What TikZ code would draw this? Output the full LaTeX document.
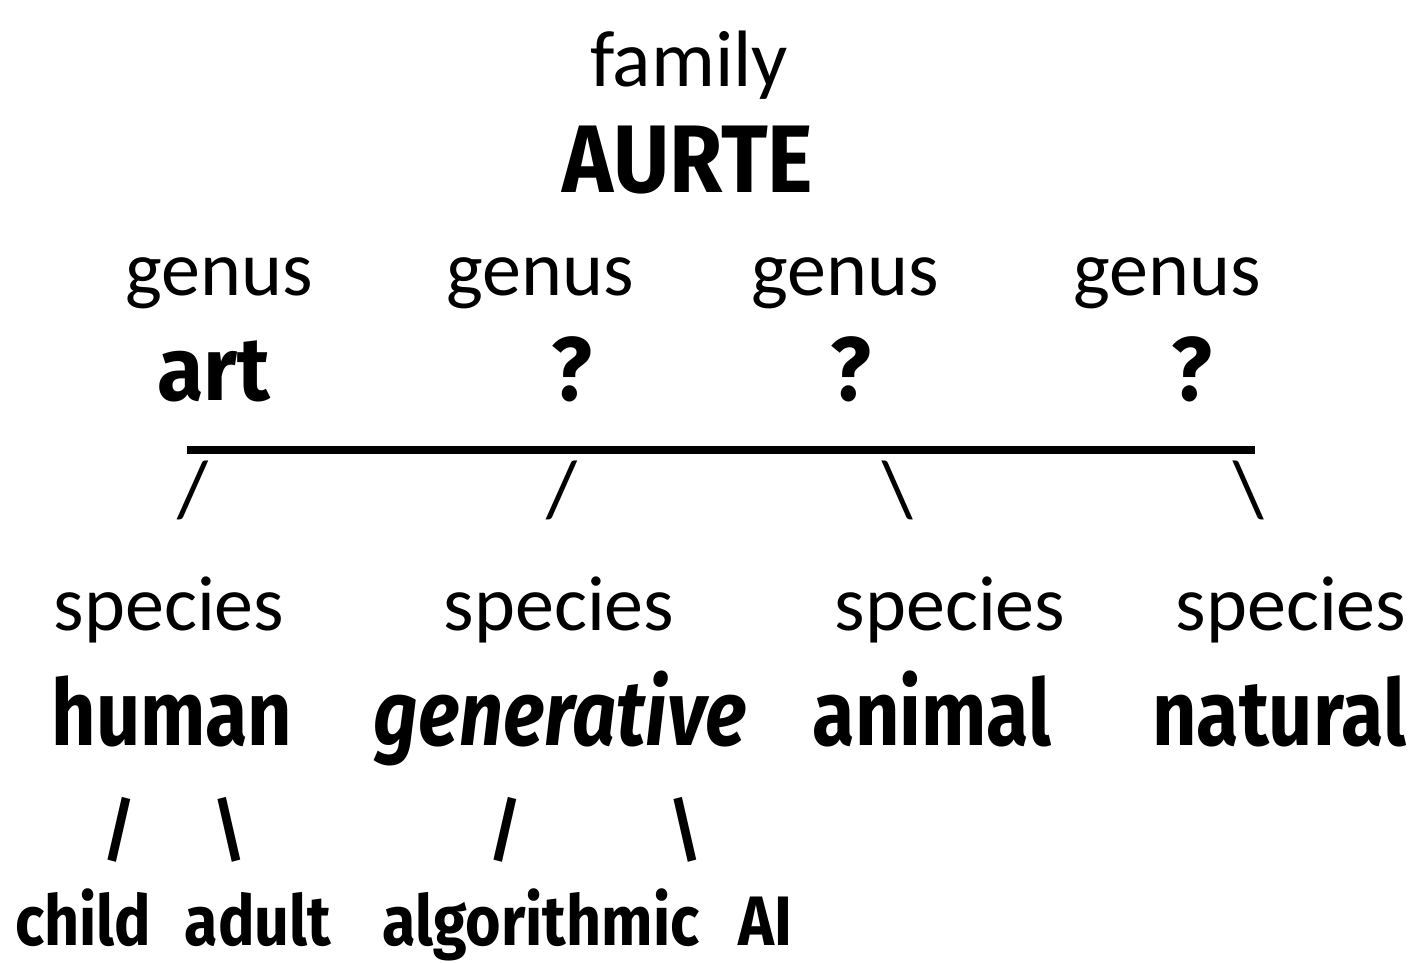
\documentclass[tikz,border=0pt]{standalone}
\usepackage{fontspec}
\setmainfont{Carlito}
\newfontfamily\handA[FakeStretch=0.90]{Fira Sans}
\newfontfamily\handArt[FakeStretch=0.94]{Fira Sans}
\newfontfamily\handB[FakeStretch=0.84]{Fira Sans}
\newfontfamily\handC[FakeStretch=0.87]{Fira Sans}
\tikzset{
  lbl/.style={inner sep=0pt, anchor=base, font=\fontsize{78}{78}\selectfont},
  big/.style={inner sep=0pt, anchor=base, font=\handB\bfseries\fontsize{92}{92}\selectfont},
  topword/.style={inner sep=0pt, anchor=base, font=\handArt\bfseries\fontsize{90}{90}\selectfont},
  small/.style={inner sep=0pt, anchor=base, font=\handC\bfseries\fontsize{70}{70}\selectfont},
  sl/.style={inner sep=0pt, anchor=center, font=\fontsize{80}{80}\selectfont},
  ssl/.style={inner sep=0pt, anchor=center, font=\handC\bfseries\fontsize{70}{70}\selectfont},
  bar/.style={line width=8pt}
}
\begin{document}
\begin{tikzpicture}[x=1pt,y=-1pt]
\useasboundingbox (0,0) rectangle (1419,962);
\node[lbl, font=\fontsize{80}{80}\selectfont] (family) at (689,86) {family};
\node[topword, font=\handA\bfseries\fontsize{96}{96}\selectfont] (aurte) at (688,192) {AURTE};
\node[lbl] (g1) at (219,295) {genus};
\node[lbl] (g2) at (540,295) {genus};
\node[lbl] (g3) at (845,295) {genus};
\node[lbl] (g4) at (1167,295) {genus};
\node[topword] (art) at (214,400) {art};
\node[topword] (q2) at (572,400) {?};
\node[topword] (q3) at (851,400) {?};
\node[topword] (q4) at (1192,400) {?};
\coordinate (barL) at (187,450);
\coordinate (barR) at (1255,450);
\draw[bar] (barL) -- (barR);
\node[sl] (s1) at (193,490) {/};
\node[sl] (s2) at (562,490) {/};
\node[sl] (s3) at (898,490) {\textbackslash};
\node[sl] (s4) at (1249,490) {\textbackslash};
\node[lbl] (sp1) at (169,630) {species};
\node[lbl] (sp2) at (559,630) {species};
\node[lbl] (sp3) at (950,630) {species};
\node[lbl] (sp4) at (1291,630) {species};
\node[big] (human) at (172,745) {human};
\node[big, font=\handB\bfseries\itshape\fontsize{92}{92}\selectfont] (gen) at (560,745) {generative};
\node[big] (animal) at (932,745) {animal};
\node[big] (natural) at (1279,745) {natural};
\node[ssl] (t1) at (119,830) {/};
\node[ssl] (t2) at (229,830) {\textbackslash};
\node[ssl] (t3) at (505,830) {/};
\node[ssl] (t4) at (685,830) {\textbackslash};
\node[small] (child) at (83,945) {child};
\node[small] (adult) at (258,945) {adult};
\node[small] (algo) at (541,945) {algorithmic};
\node[small] (ai) at (765,945) {AI};
\end{tikzpicture}
\end{document}
